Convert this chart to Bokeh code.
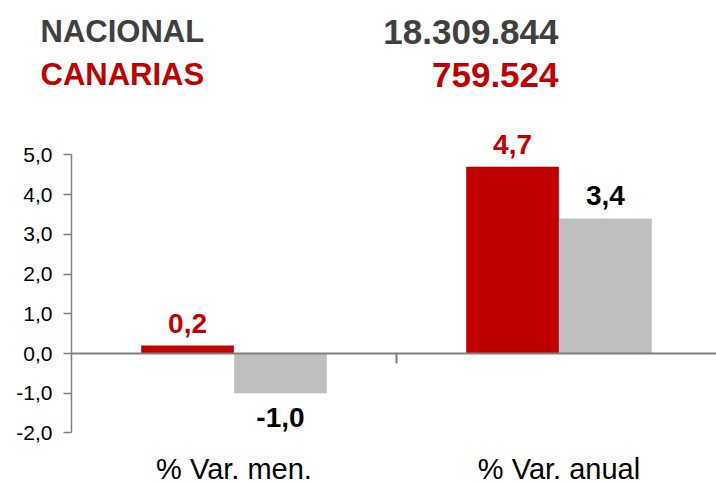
from bokeh.plotting import figure
from bokeh.models import (Range1d, ColumnDataSource, LabelSet, FixedTicker, LinearAxis,
                          SingleIntervalTicker, CustomJSTickFormatter)
from bokeh.core.properties import value
from bokeh.embed import file_html
from bokeh.resources import INLINE

# ---- data ----
categories = ["% Var. men.", "% Var. anual"]
canarias = [0.2, 4.7]
nacional = [-1.0, 3.4]
canarias_labels = ["0,2", "4,7"]
nacional_labels = ["-1,0", "3,4"]
header_names = ["NACIONAL", "CANARIAS"]
header_values = ["18.309.844", "759.524"]
y_ticks_min, y_ticks_max = -2, 5

RED = "#C00000"
GRAY = "#BFBFBF"
DARK = "#404040"
AXIS = "#7F7F7F"
FONT = "Liberation Sans"

W, H = 716, 485
# layout of the plotting area (pixels from top-left)
X0_PX, CAT_PX = 71, 325          # x=0 position, width of one category
Y0_PX, UNIT_PX = 353, 39.71      # y=0 position, pixels per y unit


def px_x(px):
    return (px - X0_PX) / CAT_PX


def px_y(py):
    return (Y0_PX - py) / UNIT_PX


p = figure(width=W, height=H, output_backend="svg", toolbar_location=None,
           x_axis_type=None, y_axis_type=None,
           x_range=Range1d(px_x(0), px_x(W)),
           y_range=Range1d(px_y(H), px_y(0)),
           min_border=0)
p.outline_line_color = None
p.grid.visible = False

idx = list(range(len(categories)))
off = 0.143
bw = 0.285
src = ColumnDataSource(dict(
    xr=[i + 0.5 - off for i in idx], xg=[i + 0.5 + off for i in idx],
    can=canarias, nac=nacional,
    canl=canarias_labels, nacl=nacional_labels,
    can_off=[13 if v >= 0 else -34 for v in canarias],
    nac_off=[13 if v >= 0 else -34 for v in nacional],
))

p.vbar(x="xr", top="can", bottom=0, width=bw, source=src, fill_color=RED, line_color=None)
p.vbar(x="xg", top="nac", bottom=0, width=bw, source=src, fill_color=GRAY, line_color=None)

p.add_layout(LabelSet(x="xr", y="can", text="canl", source=src, y_offset="can_off",
                      text_align="center", text_baseline="alphabetic",
                      text_font=value(FONT), text_font_style="bold", text_font_size="28px",
                      text_color=RED))
p.add_layout(LabelSet(x="xg", y="nac", text="nacl", source=src, y_offset="nac_off",
                      text_align="center", text_baseline="alphabetic",
                      text_font=value(FONT), text_font_style="bold", text_font_size="28px",
                      text_color="#000000"))

# zero line with category separator tick
zx = LinearAxis(fixed_location=0, bounds=(0, px_x(W)),
                ticker=FixedTicker(ticks=[i for i in idx[1:]]),
                major_label_overrides={i: "" for i in idx[1:]},
                axis_line_color=AXIS, axis_line_width=2,
                major_tick_line_color=AXIS, major_tick_line_width=2,
                major_tick_out=10, major_tick_in=0,
                minor_tick_line_color=None)
p.add_layout(zx, "below")

# category labels
cx = LinearAxis(fixed_location=y_ticks_min,
                ticker=FixedTicker(ticks=[i + 0.5 for i in idx]),
                major_label_overrides={i + 0.5: c for i, c in zip(idx, categories)},
                axis_line_color=None, major_tick_line_color=None,
                minor_tick_line_color=None, major_tick_out=0, major_tick_in=0,
                major_label_standoff=20,
                major_label_text_font=FONT, major_label_text_font_size="29px",
                major_label_text_color="#000000")
p.add_layout(cx, "below")

# y axis
ya = LinearAxis(fixed_location=0, bounds=(y_ticks_min, y_ticks_max),
                ticker=SingleIntervalTicker(interval=1),
                formatter=CustomJSTickFormatter(code="return tick.toFixed(1).replace('.', ',');"),
                axis_line_color=AXIS, axis_line_width=1.5,
                major_tick_line_color=AXIS, major_tick_line_width=1.5,
                major_tick_out=8, major_tick_in=0, minor_tick_line_color=None,
                major_label_standoff=11,
                major_label_text_font=FONT, major_label_text_font_size="21px",
                major_label_text_color="#000000")
p.add_layout(ya, "left")

# header
hsrc = ColumnDataSource(dict(
    xn=[px_x(40)] * 2, xv=[px_x(558)] * 2, y=[px_y(31), px_y(74)],
    names=header_names, vals=header_values, col=[DARK, RED]))
p.text(x="xn", y="y", text="names", source=hsrc, text_color="col",
       text_font=value(FONT), text_font_style="bold", text_font_size="31px",
       text_align="left", text_baseline="alphabetic")
p.text(x="xv", y="y", text="vals", source=hsrc, text_color="col",
       text_font=value(FONT), text_font_style="bold", text_font_size="35px",
       text_align="right", text_baseline="alphabetic")

open("out.html", "w").write(file_html(p, INLINE))
